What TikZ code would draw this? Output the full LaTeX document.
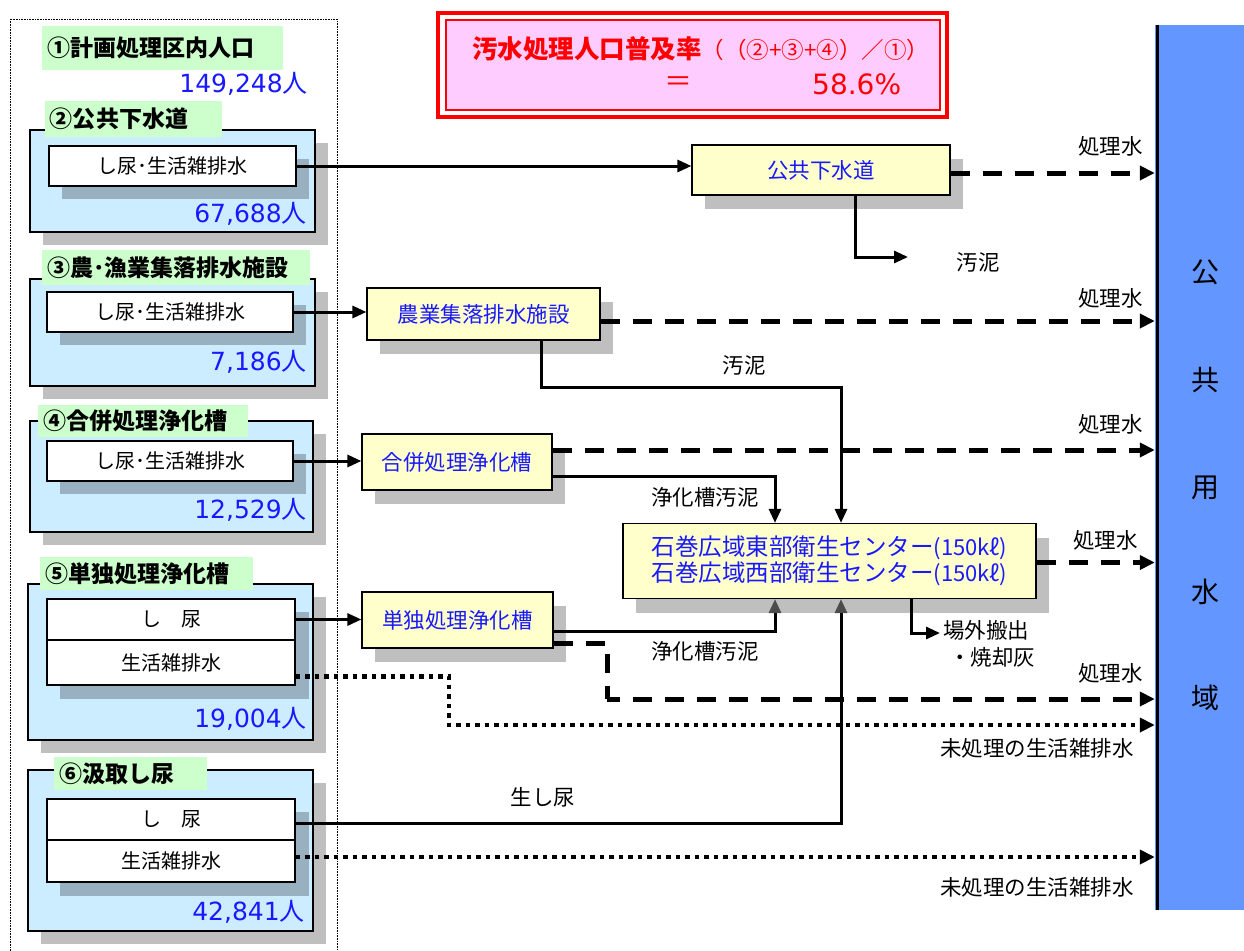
\documentclass[tikz,border=0pt]{standalone}
\usepackage{fontspec}
\setmainfont{Noto Sans CJK JP}
\newfontfamily\numfont{DejaVu Sans}
\usetikzlibrary{arrows.meta,shadows}
\definecolor{lblue}{RGB}{204,236,255}
\definecolor{lgreen}{RGB}{204,255,204}
\definecolor{lyellow}{RGB}{255,255,204}
\definecolor{tblue}{RGB}{25,25,255}
\definecolor{pinkf}{RGB}{255,204,255}
\definecolor{barblue}{RGB}{100,150,255}
\newcommand\nnum[1]{{\numfont #1}人}
\tikzset{
  fs/.style={font=\fontsize{#1}{#1}\selectfont},
  sh/.style={drop shadow={shadow xshift=13pt,shadow yshift=-13pt,fill=black,opacity=0.25}},
  secbox/.style={draw=black,line width=1.2pt,fill=lblue,inner sep=0pt,sh},
  glabel/.style={fill=lgreen,inner sep=0pt,text width=#1,align=left,font=\bfseries\fontsize{23}{23}\selectfont},
  wbox/.style={draw=black,line width=1.2pt,fill=white,inner sep=0pt,minimum width=248pt,fs=20},
  wshadow/.style={drop shadow={shadow xshift=13pt,shadow yshift=-13pt,fill=black,opacity=0.25}},
  num/.style={anchor=east,text=tblue,fs=25,inner sep=0pt},
  pbox/.style={draw=black,line width=1.2pt,fill=lyellow,inner sep=0pt,text=tblue,fs=21.5,
    drop shadow={shadow xshift=13pt,shadow yshift=-14pt,fill=black,opacity=0.25}},
  lbl/.style={fs=21.5,inner sep=0pt},
  arr/.style={line width=3pt,-{Triangle[length=14pt,width=12pt]}},
  garr/.style={line width=3pt,-{Triangle[length=14pt,width=12pt,color=black!70]}},
  dline/.style={line width=5pt,dash pattern=on 19pt off 13pt},
  darr/.style={dline,-{Triangle[length=15pt,width=14pt]}},
  oarr/.style={line width=4.5pt,dash pattern=on 4.5pt off 5pt,-{Triangle[length=15pt,width=14pt]}},
}
\begin{document}
\begin{tikzpicture}[x=1pt,y=-1pt]
\useasboundingbox (0,0) rectangle (1244,950);
\fill[white] (0,0) rectangle (1244,950);

% outer dotted frame
\draw[densely dotted,line width=0.6pt] (10,19) rectangle (337,960);

% ---- title ----
\draw[red,line width=3.5pt] (438,13) rectangle (947,117);
\draw[red,line width=2.5pt,fill=pinkf] (446,20) rectangle (940,110);
\node[anchor=west,text=red,inner sep=0pt] (t1) at (472,49)
  {\bfseries\fontsize{25.5}{25.5}\selectfont 汚水処理人口普及率\mdseries\fontsize{22.5}{22.5}\selectfont（（②+③+④）／①）};
\node[text=red,inner sep=0pt,fs=28] (teq) at (678,84) {＝};
\node[anchor=west,text=red,inner sep=0pt] (tval) at (812,84) {\numfont\fontsize{28}{28}\selectfont 58.6\%};

% ---- right bar ----
\fill[barblue] (1155,25) rectangle (1244,910);
\node[inner sep=0pt,minimum width=89pt,minimum height=885pt] (bar) at (1199.5,467.5) {};
\draw[line width=3pt] (1157,25) -- (1157,910);
\foreach \c/\yy in {公/272,共/380,用/488,水/592,域/698}
  \node[fs=28,inner sep=0pt] at (1205,\yy) {\c};

% ---- section 1 ----
\node[glabel=241pt,minimum height=44pt,minimum width=241pt] (g1) at (162.5,48) {\hspace{5pt}①計画処理区内人口};
\node[num] (n1) at (308,84) {\nnum{149,248}};

% ---- section 2 ----
\node[secbox,minimum width=285pt,minimum height=102pt] (b2) at (172.5,181) {};
\node[glabel=177pt,minimum height=36pt,minimum width=177pt] (g2) at (133.5,119) {\hspace{5pt}②公共下水道};
\node[wbox,minimum width=247pt,minimum height=40pt,wshadow] (w2) at (172.5,166) {し尿･生活雑排水};
\node[num] (n2) at (307,214) {\nnum{67,688}};

% ---- section 3 ----
\node[secbox,minimum width=285pt,minimum height=107pt] (b3) at (172.5,332.5) {};
\node[glabel=268pt,minimum height=35pt,minimum width=268pt] (g3) at (176,267.5) {\hspace{5pt}③農･漁業集落排水施設};
\node[wbox,minimum width=246pt,minimum height=40pt,wshadow] (w3) at (170,312) {し尿･生活雑排水};
\node[num] (n3) at (307,362) {\nnum{7,186}};

% ---- section 4 ----
\node[secbox,minimum width=283pt,minimum height=111pt] (b4) at (171.5,476.5) {};
\node[glabel=210pt,minimum height=32pt,minimum width=210pt] (g4) at (143,421) {\hspace{5pt}④合併処理浄化槽};
\node[wbox,minimum width=246pt,minimum height=40pt,wshadow] (w4) at (170,461) {し尿･生活雑排水};
\node[num] (n4) at (307,510) {\nnum{12,529}};

% ---- section 5 ----
\node[secbox,minimum width=285pt,minimum height=156pt] (b5) at (170.5,662) {};
\node[glabel=213pt,minimum height=33pt,minimum width=213pt] (g5) at (146.5,573.5) {\hspace{5pt}⑤単独処理浄化槽};
\fill[black,opacity=0.25] (60,612) rectangle (309,699);
\node[wbox,minimum height=41pt] (w5a) at (171,619.5) {し　尿};
\node[wbox,minimum height=45pt] (w5b) at (171,662.5) {生活雑排水};
\node[num] (n5) at (307,719) {\nnum{19,004}};

% ---- section 6 ----
\node[secbox,minimum width=285pt,minimum height=161pt] (b6) at (170.5,850.5) {};
\node[glabel=153pt,minimum height=33pt,minimum width=153pt] (g6) at (130.5,773.5) {\hspace{5pt}⑥汲取し尿};
\fill[black,opacity=0.25] (60,812) rectangle (309,896);
\node[wbox,minimum height=41pt] (w6a) at (171,819.5) {し　尿};
\node[wbox,minimum height=42pt] (w6b) at (171,861) {生活雑排水};
\node[num] (n6) at (305,912) {\nnum{42,841}};

% ---- process boxes ----
\node[pbox,minimum width=258pt,minimum height=50pt] (p1) at (821,170) {公共下水道};
\node[pbox,minimum width=233pt,minimum height=52pt] (p2) at (483.5,314) {農業集落排水施設};
\node[pbox,minimum width=190pt,minimum height=56pt] (p3) at (457,462) {合併処理浄化槽};
\node[pbox,minimum width=191pt,minimum height=56pt] (p4) at (457.5,620) {単独処理浄化槽};
\node[pbox,minimum width=413pt,minimum height=75pt,align=left,fs=23.5] (p5) at (829.5,561)
  {石巻広域東部衛生センター{\fontsize{22}{22}\selectfont(150kℓ)}\\[1pt]石巻広域西部衛生センター{\fontsize{22}{22}\selectfont(150kℓ)}};

% ---- labels ----
\foreach \yy/\xx in {146/1143,298/1143,424/1143,540/1138,673/1143}
  \node[lbl,anchor=east] at (\xx,\yy) {処理水};
\node[lbl] (o1) at (978,262) {汚泥};
\node[lbl] (o2) at (744,365) {汚泥};
\node[lbl] (j1) at (705,497) {浄化槽汚泥};
\node[lbl] (j2) at (705,651) {浄化槽汚泥};
\node[lbl,anchor=west] (e1) at (943,630) {場外搬出};
\node[lbl,anchor=west] (e2) at (949,657) {・焼却灰};
\node[lbl] (ns) at (543,797) {生し尿};
\node[lbl,anchor=east] (m1) at (1134,748) {未処理の生活雑排水};
\node[lbl,anchor=east] (m2) at (1134,887) {未処理の生活雑排水};

% ---- coordinates ----
\coordinate (c1) at (908,257);
\coordinate (c3) at (940,633);
\coordinate (k1) at (607,699);
\coordinate (k2) at (449,725);

% ---- connectors ----
\draw[arr] (w2.east) -- (w2.east -| p1.west);
\draw[arr] ([xshift=34pt]p1.south) |- (c1);
\draw[darr] ([yshift=-3pt]p1.east) -- ([yshift=-3pt]p1.east -| bar.west);

\draw[arr] (w3.east) -- (w3.east -| p2.west);
\draw[darr] ([yshift=-7pt]p2.east) -- ([yshift=-7pt]p2.east -| bar.west);
\draw[arr] ([xshift=57.5pt]p2.south) -- ++(0,47) -| ([xshift=11.5pt]p5.north);

\draw[arr] (w4.east) -- (w4.east -| p3.west);
\draw[darr] ([yshift=12pt]p3.east) -- ([yshift=12pt]p3.east -| bar.west);
\draw[arr] ([yshift=-14pt]p3.east) -| ([xshift=-54.5pt]p5.north);

\draw[darr] ([yshift=-1.5pt]p5.east) -- ([yshift=-1.5pt]p5.east -| bar.west);
\draw[arr] ([xshift=81.5pt]p5.south) |- (c3);

\draw[arr] (w5a.east) -- (w5a.east -| p4.west);
\draw[garr] ([yshift=-11pt]p4.east) -| ([xshift=-54.5pt]p5.south);
\draw[dline] ([yshift=-23pt]p4.east) -| (k1);
\draw[darr,dash phase=6pt] (k1) -- (k1 -| bar.west);
\draw[oarr] ([yshift=-14pt]w5b.east) -| (k2) -- (k2 -| bar.west);

\draw[garr] ([yshift=-3.5pt]w6a.east) -| ([xshift=11.5pt]p5.south);
\draw[oarr] ([yshift=4pt]w6b.east) -- ([yshift=4pt]w6b.east -| bar.west);
\end{tikzpicture}
\end{document}
